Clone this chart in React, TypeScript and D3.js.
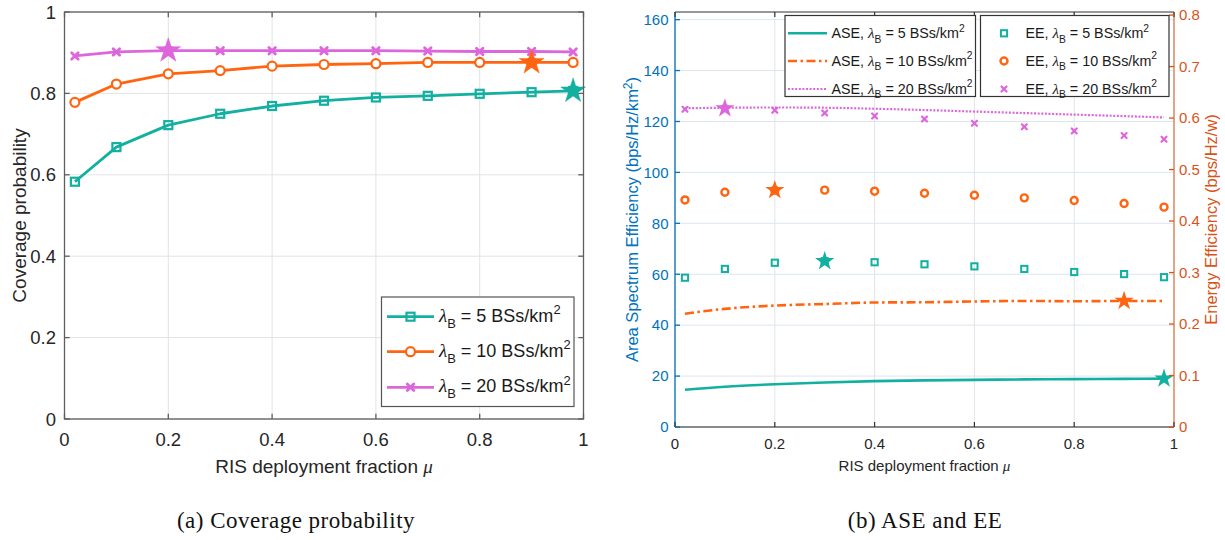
import React from 'react';
import * as d3 from 'd3';

// ---------- data ----------
const muX = [0.02, 0.1, 0.2, 0.3, 0.4, 0.5, 0.6, 0.7, 0.8, 0.9, 0.98];
const cov5 = [0.583, 0.668, 0.722, 0.750, 0.769, 0.782, 0.790, 0.794, 0.799, 0.803, 0.806];
const cov10 = [0.778, 0.823, 0.848, 0.856, 0.867, 0.871, 0.873, 0.876, 0.876, 0.876, 0.876];
const cov20 = [0.892, 0.902, 0.905, 0.905, 0.905, 0.905, 0.905, 0.904, 0.903, 0.903, 0.902];
const covStarIdx = [10, 9, 2]; // 5, 10, 20 BSs/km2

const ase5 = [14.6, 15.8, 16.8, 17.5, 18.0, 18.3, 18.5, 18.7, 18.8, 18.9, 19.0];
const ase10 = [44.5, 46.4, 47.7, 48.3, 48.9, 49.0, 49.3, 49.5, 49.4, 49.5, 49.5];
const ase20 = [125.2, 125.4, 125.5, 125.4, 125.0, 124.5, 123.9, 123.3, 122.7, 122.1, 121.6];
const ee5 = [0.290, 0.307, 0.319, 0.322, 0.320, 0.316, 0.312, 0.307, 0.301, 0.297, 0.291];
const ee10 = [0.441, 0.456, 0.460, 0.460, 0.458, 0.454, 0.450, 0.445, 0.440, 0.434, 0.427];
const ee20 = [0.617, 0.619, 0.615, 0.610, 0.604, 0.598, 0.590, 0.583, 0.575, 0.566, 0.559];
const eeStarIdx = [3, 2, 1];
const aseStarIdx = [10, 9];

const densities = [5, 10, 20];
const xTicks = [0, 0.2, 0.4, 0.6, 0.8, 1];
const covTicks = [0, 0.2, 0.4, 0.6, 0.8, 1];
const aseTicks = [0, 20, 40, 60, 80, 100, 120, 140, 160];
const eeTicks = [0, 0.1, 0.2, 0.3, 0.4, 0.5, 0.6, 0.7, 0.8];

const TEAL = '#12B0A0';
const ORANGE = '#FF6410';
const MAGENTA = '#DD66DD';
const BLUE = '#0072BD';
const RORANGE = '#D95319';
const SANS = '"Liberation Sans", Arial, Helvetica, sans-serif';
const SERIF = '"Liberation Serif", "Times New Roman", serif';

const fmt = (v: number) => String(+v.toFixed(2));

const starPath = (size: number) => d3.symbol().type(d3.symbolStar).size(size)() as string;

function Marker({ kind, x, y, color, s, sw }: any) {
  if (kind === 'square') {
    return <rect x={x - s / 2} y={y - s / 2} width={s} height={s} fill="none" stroke={color} strokeWidth={sw} />;
  }
  if (kind === 'circle') {
    return <circle cx={x} cy={y} r={s / 2} fill="white" stroke={color} strokeWidth={sw} />;
  }
  const h = s / 2;
  return (
    <g stroke={color} strokeWidth={sw} strokeLinecap="round">
      <line x1={x - h} y1={y - h} x2={x + h} y2={y + h} />
      <line x1={x - h} y1={y + h} x2={x + h} y2={y - h} />
    </g>
  );
}

function LamLabel({ x, y, prefix, n, fs }: any) {
  const sub = fs * 0.72;
  return (
    <text x={x} y={y} fontSize={fs} fontFamily={SANS} fill="#1a1a1a">
      {prefix}<tspan fontFamily={SERIF} fontStyle="italic" fontSize={fs * 1.05}>λ</tspan><tspan fontSize={sub} dy={fs * 0.33}>B</tspan><tspan dy={-fs * 0.33}>{` = ${n} BSs/km`}</tspan><tspan fontSize={sub} dy={-fs * 0.42}>2</tspan>
    </text>
  );
}

function LeftChart() {
  const L = { x0: 64.5, x1: 583.5, y0: 12, y1: 419 };
  const x = d3.scaleLinear().domain([0, 1]).range([L.x0, L.x1]);
  const y = d3.scaleLinear().domain([0, 1]).range([L.y1, L.y0]);
  const series = [
    { d: cov5, c: TEAL, m: 'square' },
    { d: cov10, c: ORANGE, m: 'circle' },
    { d: cov20, c: MAGENTA, m: 'x' },
  ];
  const line = d3.line<number>().x((_, i) => x(muX[i])).y((v) => y(v));
  const tl = 5.2;
  const frame = '#5f5f5f';
  const lg = { x0: 381.5, x1: 574, y0: 297, y1: 406.5, rows: [316.7, 351.7, 387.3] };
  return (
    <g>
      {xTicks.map((t) => (
        <line key={'gx' + t} x1={x(t)} x2={x(t)} y1={L.y0} y2={L.y1} stroke="#E3E3E3" strokeWidth={1} />
      ))}
      {covTicks.map((t) => (
        <line key={'gy' + t} x1={L.x0} x2={L.x1} y1={y(t)} y2={y(t)} stroke="#E3E3E3" strokeWidth={1} />
      ))}
      {series.map((s, k) => (
        <g key={k}>
          <path d={line(s.d) as string} fill="none" stroke={s.c} strokeWidth={2.8} strokeLinejoin="round" />
          {s.d.map((v, i) => (
            <Marker key={i} kind={s.m} x={x(muX[i])} y={y(v)} color={s.c} s={s.m === 'circle' ? 9 : s.m === 'square' ? 8 : 6.5} sw={s.m === 'x' ? 2.8 : 2.2} />
          ))}
        </g>
      ))}
      {series.map((s, k) => (
        <path key={'st' + k} d={starPath(190)} transform={`translate(${x(muX[covStarIdx[k]])},${y(s.d[covStarIdx[k]])})`} fill={s.c} stroke={s.c} strokeWidth={0.5} />
      ))}
      {/* frame & ticks */}
      <rect x={L.x0} y={L.y0} width={L.x1 - L.x0} height={L.y1 - L.y0} fill="none" stroke={frame} strokeWidth={1.3} />
      {xTicks.map((t) => (
        <g key={'tx' + t} stroke={frame} strokeWidth={1.3}>
          <line x1={x(t)} x2={x(t)} y1={L.y1} y2={L.y1 - tl} />
          <line x1={x(t)} x2={x(t)} y1={L.y0} y2={L.y0 + tl} />
        </g>
      ))}
      {covTicks.map((t) => (
        <g key={'ty' + t} stroke={frame} strokeWidth={1.3}>
          <line x1={L.x0} x2={L.x0 + tl} y1={y(t)} y2={y(t)} />
          <line x1={L.x1} x2={L.x1 - tl} y1={y(t)} y2={y(t)} />
        </g>
      ))}
      {xTicks.map((t) => (
        <text key={'lx' + t} x={x(t)} y={446} textAnchor="middle" fontSize={18.5} fontFamily={SANS} fill="#262626">{fmt(t)}</text>
      ))}
      {covTicks.map((t) => (
        <text key={'ly' + t} x={56} y={y(t) + 6.5} textAnchor="end" fontSize={18.5} fontFamily={SANS} fill="#262626">{fmt(t)}</text>
      ))}
      <text x={(L.x0 + L.x1) / 2} y={473} textAnchor="middle" fontSize={19} fontFamily={SANS} fill="#262626">
        RIS deployment fraction <tspan fontFamily={SERIF} fontStyle="italic">μ</tspan>
      </text>
      <text transform={`translate(26,${(L.y0 + L.y1) / 2}) rotate(-90)`} textAnchor="middle" fontSize={19} fontFamily={SANS} fill="#262626">
        Coverage probability
      </text>
      {/* legend */}
      <rect x={lg.x0} y={lg.y0} width={lg.x1 - lg.x0} height={lg.y1 - lg.y0} fill="white" stroke="#555" strokeWidth={1.2} />
      {series.map((s, k) => (
        <g key={'lg' + k}>
          <line x1={387} x2={434} y1={lg.rows[k]} y2={lg.rows[k]} stroke={s.c} strokeWidth={2.8} />
          <Marker kind={s.m} x={410.5} y={lg.rows[k]} color={s.c} s={s.m === 'circle' ? 9 : s.m === 'square' ? 8 : 6.5} sw={s.m === 'x' ? 2.8 : 2.2} />
          <LamLabel x={439} y={lg.rows[k] + 5} prefix="" n={densities[k]} fs={18} />
        </g>
      ))}
    </g>
  );
}

function RightChart() {
  const R = { x0: 675, x1: 1174, y0: 12, y1: 427 };
  const x = d3.scaleLinear().domain([0, 1]).range([R.x0, R.x1]);
  const yl = d3.scaleLinear().domain([0, 163]).range([R.y1, R.y0]);
  const yr = d3.scaleLinear().domain([0, 0.806]).range([R.y1, R.y0]);
  const tl = 5;
  const ase = [
    { d: ase5, c: TEAL, dash: undefined as string | undefined, w: 2.6 },
    { d: ase10, c: ORANGE, dash: '9,3.5,2.5,3.5', w: 2.6 },
    { d: ase20, c: MAGENTA, dash: '2,1.6', w: 2.2 },
  ];
  const ee = [
    { d: ee5, c: TEAL, m: 'square', s: 6.2, sw: 2 },
    { d: ee10, c: ORANGE, m: 'circle', s: 7, sw: 2.4 },
    { d: ee20, c: MAGENTA, m: 'x', s: 5, sw: 2.2 },
  ];
  const lineL = (d: number[]) => d3.line<number>().x((_, i) => x(muX[i])).y((v) => yl(v)).curve(d3.curveMonotoneX)(d) as string;
  const rows = [33.3, 61, 89];
  return (
    <g>
      {xTicks.map((t) => (
        <line key={'gx' + t} x1={x(t)} x2={x(t)} y1={R.y0} y2={R.y1} stroke="#E2E4E8" strokeWidth={1} />
      ))}
      {aseTicks.map((t) => (
        <line key={'gy' + t} x1={R.x0} x2={R.x1} y1={yl(t)} y2={yl(t)} stroke="#DDE6EF" strokeWidth={1} />
      ))}
      {ase.map((s, k) => (
        <path key={'a' + k} d={lineL(s.d)} fill="none" stroke={s.c} strokeWidth={s.w} strokeDasharray={s.dash} />
      ))}
      {ee.map((s, k) => (
        <g key={'e' + k}>
          {s.d.map((v, i) => (
            <Marker key={i} kind={s.m} x={x(muX[i])} y={yr(v)} color={s.c} s={s.s} sw={s.sw} />
          ))}
        </g>
      ))}
      {ee.map((s, k) => (
        <path key={'es' + k} d={starPath(115)} transform={`translate(${x(muX[eeStarIdx[k]])},${yr(s.d[eeStarIdx[k]])})`} fill={s.c} />
      ))}
      {aseStarIdx.map((idx, k) => (
        <path key={'as' + k} d={starPath(115)} transform={`translate(${x(muX[idx])},${yl(ase[k].d[idx])})`} fill={ase[k].c} />
      ))}
      {/* axes */}
      <line x1={R.x0} x2={R.x1} y1={R.y0} y2={R.y0} stroke="#333" strokeWidth={1.2} />
      <line x1={R.x0} x2={R.x1} y1={R.y1} y2={R.y1} stroke="#222" strokeWidth={1.2} />
      <line x1={R.x0} x2={R.x0} y1={R.y0} y2={R.y1} stroke={BLUE} strokeWidth={1.3} />
      <line x1={R.x1} x2={R.x1} y1={R.y0} y2={R.y1} stroke={RORANGE} strokeOpacity={0.65} strokeWidth={1.5} />
      {xTicks.map((t) => (
        <g key={'tx' + t} stroke="#333" strokeWidth={1.2}>
          <line x1={x(t)} x2={x(t)} y1={R.y1} y2={R.y1 - tl} />
          <line x1={x(t)} x2={x(t)} y1={R.y0} y2={R.y0 + tl} />
        </g>
      ))}
      {aseTicks.map((t) => (
        <line key={'tl' + t} x1={R.x0} x2={R.x0 + tl} y1={yl(t)} y2={yl(t)} stroke={BLUE} strokeWidth={1.3} />
      ))}
      {eeTicks.map((t) => (
        <line key={'tr' + t} x1={R.x1} x2={R.x1 - tl} y1={yr(t)} y2={yr(t)} stroke={RORANGE} strokeWidth={1.3} />
      ))}
      {xTicks.map((t) => (
        <text key={'lx' + t} x={x(t)} y={449} textAnchor="middle" fontSize={15} fontFamily={SANS} fill="#262626">{fmt(t)}</text>
      ))}
      {aseTicks.map((t) => (
        <text key={'ll' + t} x={668.5} y={yl(t) + 5.3} textAnchor="end" fontSize={15} fontFamily={SANS} fill={BLUE}>{fmt(t)}</text>
      ))}
      {eeTicks.map((t) => (
        <text key={'lr' + t} x={1179} y={yr(t) + 5.3} textAnchor="start" fontSize={15} fontFamily={SANS} fill={RORANGE}>{fmt(t)}</text>
      ))}
      <text x={(R.x0 + R.x1) / 2} y={471} textAnchor="middle" fontSize={15} fontFamily={SANS} fill="#262626">
        RIS deployment fraction <tspan fontFamily={SERIF} fontStyle="italic">μ</tspan>
      </text>
      <text transform={`translate(638,${(R.y0 + R.y1) / 2}) rotate(-90)`} textAnchor="middle" fontSize={16.5} fontFamily={SANS} fill={BLUE}>
        Area Spectrum Efficiency (bps/Hz/km<tspan fontSize={12} dy={-6.5}>2</tspan><tspan dy={6.5}>)</tspan>
      </text>
      <text transform={`translate(1217,${(R.y0 + R.y1) / 2}) rotate(-90)`} textAnchor="middle" fontSize={16.5} fontFamily={SANS} fill={RORANGE}>
        Energy Efficiency (bps/Hz/w)
      </text>
      {/* legends */}
      <rect x={785} y={15.5} width={190.5} height={81} fill="white" stroke="#333" strokeWidth={1.2} />
      {ase.map((s, k) => (
        <g key={'la' + k}>
          <line x1={788} x2={827} y1={rows[k]} y2={rows[k]} stroke={s.c} strokeWidth={s.w} strokeDasharray={s.dash} />
          <LamLabel x={831.5} y={rows[k] + 4.5} prefix="ASE, " n={densities[k]} fs={14.3} />
        </g>
      ))}
      <rect x={980.5} y={15.5} width={188.5} height={81} fill="white" stroke="#333" strokeWidth={1.2} />
      {ee.map((s, k) => (
        <g key={'le' + k}>
          <Marker kind={s.m} x={1004} y={rows[k]} color={s.c} s={s.s} sw={s.sw} />
          <LamLabel x={1025.5} y={rows[k] + 4.5} prefix="EE, " n={densities[k]} fs={14.3} />
        </g>
      ))}
    </g>
  );
}

export default function App() {
  return (
    <svg width={1225} height={540} style={{ position: 'absolute', left: 0, top: 0, background: 'white' }}>
      <rect width={1225} height={540} fill="white" />
      <LeftChart />
      <RightChart />
      <text x={296} y={528} textAnchor="middle" fontSize={23} letterSpacing={0.5} fontFamily={SERIF} fill="#111">(a)  Coverage probability</text>
      <text x={925} y={528} textAnchor="middle" fontSize={23} letterSpacing={0.5} fontFamily={SERIF} fill="#111">(b)  ASE and EE</text>
    </svg>
  );
}
